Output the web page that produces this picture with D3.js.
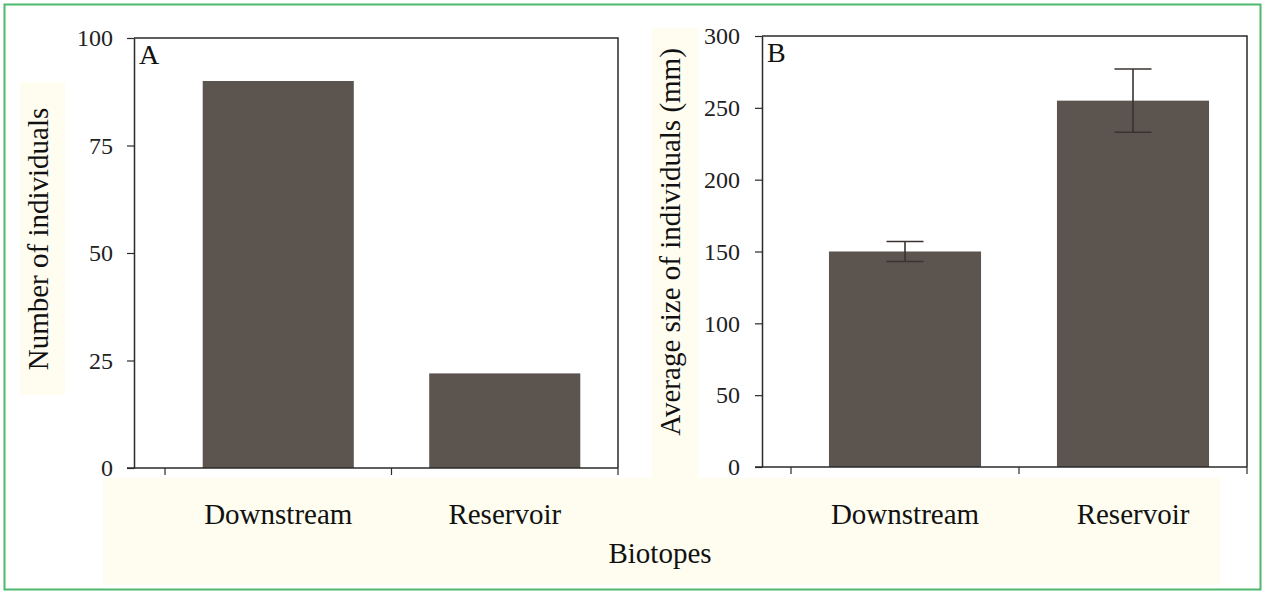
<!DOCTYPE html>
<html>
<head>
<meta charset="utf-8">
<script src="https://cdn.jsdelivr.net/npm/d3@7"></script>
<style>
  body { margin: 0; background: #fff; }
  svg text { fill: #111; }
  .tick text { font-size: 24px; fill: #222; }
  .axis-title { font-size: 29px; }
  .panel-letter { font-size: 28px; }
</style>
</head>
<body>
<svg id="chart"></svg>
<script>
const CATEGORIES = ["Downstream", "Reservoir"];
const COUNT_VALUES = [90, 22];
const SIZE_VALUES = [150, 255];
const SIZE_ERRORS = [7, 22];
const COUNT_TICKS = [0, 25, 50, 75, 100];
const SIZE_TICKS = [0, 50, 100, 150, 200, 250, 300];

const WIDTH = 1266, HEIGHT = 594;
const FONT = "'Liberation Serif', Tinos, 'Times New Roman', Times, 'DejaVu Serif', serif";
const BAR_COLOR = "#5c544e";
const AXIS_COLOR = "#2a2a2a";
const CREAM = "#fefdf0";

let svg = d3.select("#chart")
            .attr("width", WIDTH)
            .attr("height", HEIGHT)
            .attr("font-family", FONT);

// pale backgrounds behind the label areas (as in the pasted figure)
svg.append("rect").attr("x", 103).attr("y", 478).attr("width", 1117).attr("height", 107).attr("fill", CREAM);
svg.append("rect").attr("x", 20).attr("y", 82).attr("width", 45).attr("height", 313).attr("fill", CREAM);
svg.append("rect").attr("x", 652).attr("y", 28).attr("width", 46).attr("height", 450).attr("fill", CREAM);

// outer green frame
svg.append("rect")
   .attr("x", 4.5).attr("y", 4.5)
   .attr("width", 1256).attr("height", 585)
   .attr("fill", "none")
   .attr("stroke", "#4cb96c")
   .attr("stroke-width", 2);


/*
  Draws one bar panel: box, y-axis, category ticks, bars and optional error bars.
*/
const buildPanel = (p) => {

  let y = d3.scaleLinear().domain(p.domain).range([p.bottom, p.top]);
  let x = d3.scaleBand().domain(CATEGORIES).range([p.bandStart, p.right]).padding(0);
  let barWidth = x.bandwidth() * 0.667;

  let g = svg.append("g");

  // bars
  g.selectAll(".bar")
   .data(p.values)
   .enter().append("rect")
   .attr("x", (d, i) => x(CATEGORIES[i]) + (x.bandwidth() - barWidth) / 2)
   .attr("y", d => y(d))
   .attr("width", barWidth)
   .attr("height", d => p.bottom - y(d))
   .attr("fill", BAR_COLOR);

  // error bars
  if (p.errors) {
    const CAP = 18.5;
    p.values.forEach((v, i) => {
      let cx = x(CATEGORIES[i]) + x.bandwidth() / 2;
      let eg = g.append("g").attr("stroke", "#3a3330").attr("stroke-width", 1.6);
      eg.append("line").attr("x1", cx).attr("x2", cx).attr("y1", y(v - p.errors[i])).attr("y2", y(v + p.errors[i]));
      eg.append("line").attr("x1", cx - CAP).attr("x2", cx + CAP).attr("y1", y(v + p.errors[i])).attr("y2", y(v + p.errors[i]));
      eg.append("line").attr("x1", cx - CAP).attr("x2", cx + CAP).attr("y1", y(v - p.errors[i])).attr("y2", y(v - p.errors[i]));
    });
  }

  // box: top and right edges
  g.append("path")
   .attr("d", `M${p.left},${p.top}H${p.right}V${p.bottom}`)
   .attr("fill", "none")
   .attr("stroke", AXIS_COLOR)
   .attr("stroke-width", 1.5);

  // x-axis baseline with category boundary ticks
  g.append("line")
   .attr("x1", p.left - 7).attr("x2", p.right)
   .attr("y1", p.bottom).attr("y2", p.bottom)
   .attr("stroke", AXIS_COLOR).attr("stroke-width", 1.5);

  let bounds = CATEGORIES.map(c => x(c)).concat([x.range()[1]]);
  g.selectAll(".xtick")
   .data(bounds)
   .enter().append("line")
   .attr("x1", d => d).attr("x2", d => d)
   .attr("y1", p.bottom).attr("y2", p.bottom + 7)
   .attr("stroke", AXIS_COLOR).attr("stroke-width", 1.2);

  // category labels
  g.selectAll(".xlabel")
   .data(CATEGORIES)
   .enter().append("text")
   .attr("class", "axis-title")
   .attr("x", d => x(d) + x.bandwidth() / 2)
   .attr("y", 524)
   .attr("text-anchor", "middle")
   .text(d => d);

  // y-axis
  let ax = g.append("g")
            .attr("transform", `translate(${p.left},0)`)
            .call(d3.axisLeft(y)
                    .tickValues(p.ticks)
                    .tickSize(7)
                    .tickSizeOuter(0)
                    .tickPadding(p.tickPadding));
  ax.attr("font-family", FONT).attr("font-size", null);
  ax.select(".domain").attr("stroke", AXIS_COLOR).attr("stroke-width", 1.5);
  ax.selectAll(".tick line").attr("stroke", AXIS_COLOR).attr("stroke-width", 1.2);

  // y-axis title
  g.append("text")
   .attr("class", "axis-title")
   .attr("transform", `translate(${p.titleX},${p.titleY}) rotate(-90)`)
   .attr("text-anchor", "middle")
   .text(p.title);

  // panel letter
  g.append("text")
   .attr("class", "panel-letter")
   .attr("x", p.left + 5)
   .attr("y", p.top + 26)
   .text(p.letter);
}


buildPanel({
  letter: "A", title: "Number of individuals",
  values: COUNT_VALUES, errors: null, domain: [0, 100], ticks: COUNT_TICKS,
  left: 134, right: 618, top: 38, bottom: 468, bandStart: 165,
  tickPadding: 14, titleX: 48, titleY: 239
});

buildPanel({
  letter: "B", title: "Average size of individuals (mm)",
  values: SIZE_VALUES, errors: SIZE_ERRORS, domain: [0, 300], ticks: SIZE_TICKS,
  left: 762, right: 1247, top: 36, bottom: 467, bandStart: 791,
  tickPadding: 15, titleX: 680, titleY: 242
});

svg.append("text")
   .attr("class", "axis-title")
   .attr("x", 660)
   .attr("y", 563)
   .attr("text-anchor", "middle")
   .text("Biotopes");
</script>
</body>
</html>
